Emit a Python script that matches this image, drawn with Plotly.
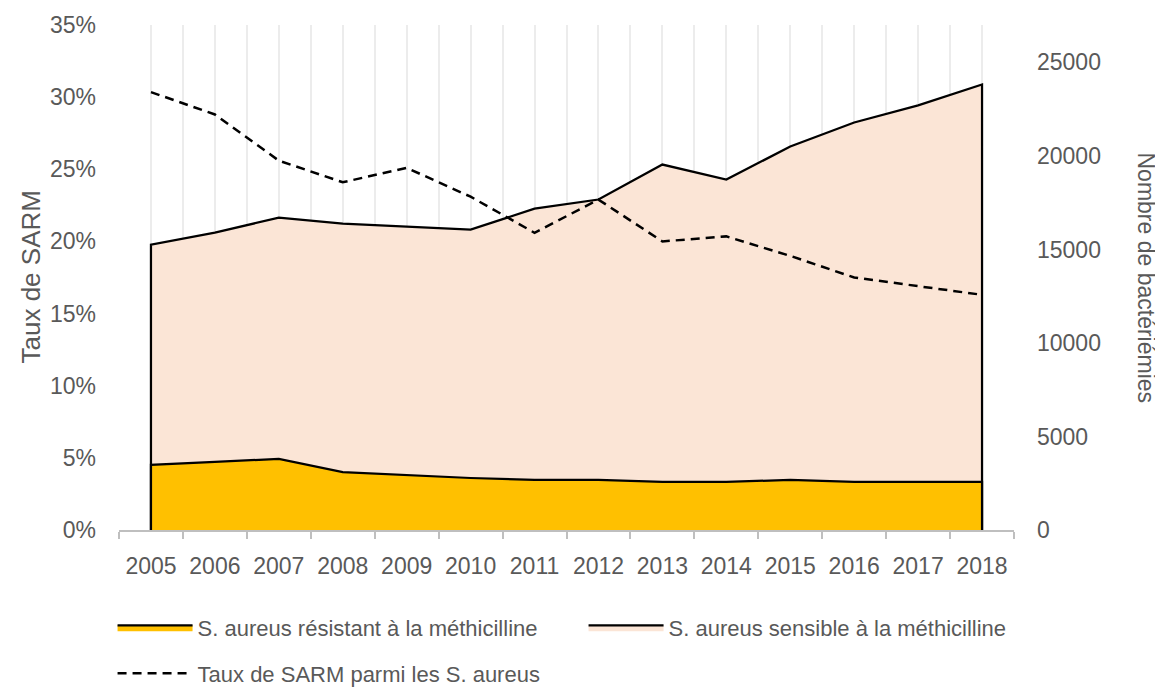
import plotly.graph_objects as go

years = [2005, 2006, 2007, 2008, 2009, 2010, 2011, 2012, 2013, 2014, 2015, 2016, 2017, 2018]
year_labels = [str(y) for y in years]
# Nombre de bactériémies (axe de droite)
sarm = [3480, 3640, 3800, 3100, 2950, 2780, 2680, 2680, 2570, 2570, 2680, 2570, 2570, 2570]
sasm = [11780, 12260, 12900, 13280, 13270, 13280, 14500, 14990, 16970, 16170, 17820, 19220, 20130, 21250]
# Taux de SARM parmi les S. aureus (axe de gauche)
taux = [0.3035, 0.288, 0.256, 0.241, 0.251, 0.231, 0.206, 0.229, 0.200, 0.2035, 0.190, 0.175, 0.169, 0.163]

right_ticks = [0, 5000, 10000, 15000, 20000, 25000]
left_ticks = [0, 0.05, 0.10, 0.15, 0.20, 0.25, 0.30, 0.35]

total = [a + b for a, b in zip(sarm, sasm)]
x_closed = [years[0]] + years + [years[-1]]
half_years = [y - 0.5 for y in years] + [years[-1] + 0.5]

FONT = "Liberation Sans"
GREY = "#595959"
GRID = "#ececec"

fig = go.Figure()

fig.add_trace(go.Scatter(
    x=x_closed, y=[0] + total + [0], mode="lines", fill="tozeroy",
    fillcolor="#FBE5D6", line=dict(color="black", width=2.25),
    name="S. aureus sensible à la méthicilline", yaxis="y", legendrank=2,
    legend="legend",
))
fig.add_trace(go.Scatter(
    x=x_closed, y=[0] + sarm + [0], mode="lines", fill="tozeroy",
    fillcolor="#FFC000", line=dict(color="black", width=2.25),
    name="S. aureus résistant à la méthicilline", yaxis="y", legendrank=1,
    legend="legend",
))
fig.add_trace(go.Scatter(
    x=years, y=taux, mode="lines", line=dict(color="black", width=2.5, dash="9px,6px"),
    name="Taux de SARM parmi les S. aureus", yaxis="y2", legend="legend2",
))

fig.update_layout(
    width=1163, height=687,
    margin=dict(l=111, r=157, t=17, b=165, autoexpand=False),
    paper_bgcolor="white", plot_bgcolor="white",
    font=dict(family=FONT, size=23, color=GREY),
    xaxis=dict(
        range=[2004.5, 2018.5], tickmode="array", tickvals=years, ticktext=year_labels,
        ticks="", showgrid=True, gridcolor=GRID, gridwidth=1.5,
        showline=True, linecolor="#bfbfbf", linewidth=1.5, zeroline=False,
        tickfont=dict(size=23, color=GREY), ticklabelstandoff=15,
        minor=dict(tickmode="array", tickvals=half_years, ticks="outside", ticklen=7,
                   tickcolor="#bfbfbf", tickwidth=1.5, showgrid=True, gridcolor=GRID, gridwidth=1.5),
    ),
    yaxis=dict(
        side="right", range=[0, 27000], tickmode="array", tickvals=right_ticks,
        tickformat="d", showgrid=False, zeroline=False, showline=False,
        tickfont=dict(size=23, color=GREY), ticklabelstandoff=22,
    ),
    yaxis2=dict(
        side="left", overlaying="y", range=[0, 0.35], tickmode="array", tickvals=left_ticks,
        tickformat=".0%", showgrid=False, zeroline=False, showline=False,
        tickfont=dict(size=23, color=GREY), ticklabelstandoff=22,
    ),
    legend=dict(
        orientation="h", x=-0.0072, xanchor="left", y=-0.1515, yanchor="top",
        itemwidth=75, entrywidth=381, entrywidthmode="pixels",
        font=dict(size=22, color=GREY), bgcolor="rgba(0,0,0,0)",
    ),
    legend2=dict(
        orientation="h", x=-0.0072, xanchor="left", y=-0.2425, yanchor="top",
        itemwidth=75, font=dict(size=22, color=GREY), bgcolor="rgba(0,0,0,0)",
    ),
    showlegend=True,
    annotations=[
        dict(text="Taux de SARM", xref="paper", yref="paper", x=0, y=0.5,
             xanchor="center", yanchor="middle", textangle=-90, showarrow=False,
             font=dict(size=26, color=GREY), xshift=-89),
        dict(text="Nombre de bactériémies", xref="paper", yref="paper", x=1.0, y=0.5,
             xanchor="center", yanchor="middle", textangle=90, showarrow=False,
             font=dict(size=23, color=GREY), xshift=132),
    ],
)

fig.write_html("out.html")
